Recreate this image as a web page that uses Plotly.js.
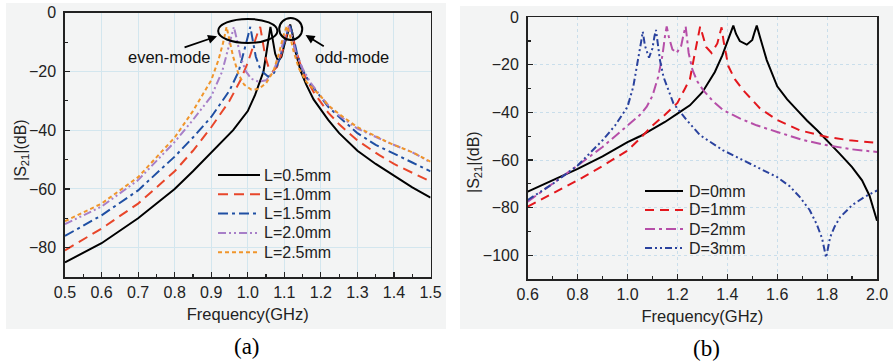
<!DOCTYPE html>
<html><head><meta charset="utf-8">
<script src="https://cdn.plot.ly/plotly-3.0.1.min.js"></script>
<style>html,body{margin:0;padding:0;background:#fff}#chart{width:894px;height:364px}</style>
</head><body><div id="chart"></div>
<script>
// ---------- Panel (a): |S21| vs frequency for different L ----------
const freqA_L05 = [0.5,0.6,0.7,0.76,0.8,0.85,0.9,0.96,1.0,1.02,1.043,1.055,1.062,1.068,1.075,1.083,1.092,1.1,1.108,1.116,1.122,1.13,1.145,1.16,1.18,1.2,1.22,1.25,1.3,1.35,1.4,1.45,1.5];
const s21A_L05  = [-85,-78.5,-70,-64,-60,-54,-47.5,-40,-33.5,-28,-20,-10,-4.8,-9,-14,-16.5,-15,-11,-7,-4,-7,-13,-20,-24.5,-29.5,-33,-36.5,-41,-47,-51.5,-55.5,-59.5,-63];
const freqA_L10 = [0.5,0.6,0.7,0.8,0.85,0.9,0.95,0.98,1.0,1.015,1.028,1.034,1.04,1.048,1.058,1.068,1.08,1.095,1.105,1.114,1.122,1.13,1.145,1.16,1.18,1.2,1.22,1.25,1.3,1.36,1.4,1.45,1.5];
const s21A_L10  = [-80.9,-73.5,-65,-54,-47,-39,-30,-23,-17,-11,-6.5,-4.8,-9,-15,-19,-20,-18.5,-13,-8,-4.5,-7,-12,-18,-22.5,-27,-30.5,-34,-38,-43.5,-48.5,-51.5,-54.5,-57.5];
const freqA_L15 = [0.5,0.6,0.7,0.8,0.85,0.9,0.95,0.975,0.99,1.0,1.007,1.013,1.022,1.035,1.056,1.072,1.088,1.1,1.11,1.116,1.124,1.135,1.15,1.17,1.2,1.22,1.25,1.3,1.35,1.39,1.45,1.5];
const s21A_L15  = [-76,-69,-60.5,-49,-42.5,-35.5,-26.5,-20,-13,-7.5,-4.8,-9,-15,-19.5,-21.8,-20.5,-15.5,-10,-6,-4.5,-8,-14,-19.5,-24,-29,-32,-35.5,-41,-45,-47.5,-51,-54];
const freqA_L20 = [0.5,0.6,0.7,0.8,0.85,0.9,0.93,0.95,0.962,0.97,0.98,0.995,1.01,1.03,1.05,1.07,1.088,1.1,1.112,1.12,1.132,1.15,1.17,1.2,1.22,1.25,1.3,1.39,1.45,1.5];
const s21A_L20  = [-72,-66,-57,-44,-36.5,-28.5,-20,-11,-4.8,-9,-15,-20,-22.5,-23.5,-23,-20,-14,-8.5,-4.5,-7.5,-14,-19,-23.5,-28.5,-31.5,-35,-39.5,-44.5,-47.5,-51];
const freqA_L25 = [0.5,0.6,0.7,0.8,0.85,0.9,0.92,0.933,0.942,0.95,0.96,0.975,0.99,1.01,1.03,1.05,1.07,1.085,1.097,1.107,1.115,1.125,1.14,1.16,1.2,1.22,1.25,1.3,1.39,1.45,1.5];
const s21A_L25  = [-71,-65,-56,-42.5,-33.5,-23,-16,-10,-4.8,-9.5,-15,-21,-24.5,-26.2,-26,-24,-20,-14,-8,-4.5,-7.5,-13,-19,-23.5,-28.5,-31.5,-34.5,-39,-44.5,-47.5,-50.7];
const namesA = ['L=0.5mm','L=1.0mm','L=1.5mm','L=2.0mm','L=2.5mm'];

// ---------- Panel (b): |S21| vs frequency for different D ----------
const freqB_D0 = [0.6,0.7,0.8,0.9,1.0,1.05,1.1,1.15,1.2,1.25,1.3,1.35,1.38,1.4,1.415,1.424,1.435,1.45,1.478,1.5,1.51,1.518,1.53,1.558,1.6,1.64,1.68,1.72,1.76,1.8,1.85,1.9,1.94,1.97,2.0];
const s21B_D0  = [-73.3,-68.5,-63.7,-58.5,-52.5,-50,-47,-44,-40.5,-37,-31.5,-23,-16,-10,-5.5,-3.5,-7,-10,-11.5,-9.5,-6,-3.5,-8,-18,-29,-34.5,-39,-43.5,-47.5,-51.7,-57.3,-63,-68.5,-75,-85.5];
const freqB_D1 = [0.6,0.7,0.8,0.9,1.0,1.05,1.1,1.15,1.2,1.23,1.25,1.27,1.283,1.291,1.3,1.315,1.337,1.36,1.37,1.377,1.385,1.404,1.43,1.463,1.531,1.6,1.69,1.8,1.89,2.0];
const s21B_D1  = [-79.6,-74,-68.5,-62.5,-56,-51,-45.5,-41,-36,-30,-26,-15,-7,-3.9,-7,-12.5,-15,-11,-7,-4.2,-10,-20.5,-26,-30.6,-38.3,-43.2,-47.5,-50.3,-51.7,-52.8];
const freqB_D2 = [0.6,0.7,0.8,0.9,1.0,1.05,1.077,1.1,1.123,1.14,1.15,1.157,1.165,1.18,1.197,1.215,1.225,1.233,1.245,1.26,1.28,1.303,1.34,1.383,1.45,1.517,1.6,1.7,1.8,1.9,2.0];
const s21B_D2  = [-77.5,-70,-62.3,-54.5,-45.5,-41,-37.6,-33,-25,-16,-8,-3.8,-8,-13.5,-15,-12,-7,-3.8,-15,-22,-27,-30.6,-35,-39,-42.5,-45.4,-48.2,-51.5,-53.8,-55.5,-56.6];
const freqB_D3 = [0.6,0.7,0.8,0.9,0.95,1.0,1.023,1.043,1.055,1.061,1.07,1.086,1.1,1.108,1.114,1.12,1.13,1.144,1.184,1.237,1.29,1.383,1.45,1.517,1.6,1.65,1.691,1.73,1.758,1.78,1.796,1.812,1.83,1.852,1.9,1.95,2.0];
const s21B_D3  = [-76.8,-70,-62.3,-51.7,-45.5,-37.6,-29.2,-17.9,-10,-6,-12,-17,-13,-8,-5.3,-10,-18,-25,-36.2,-43.2,-49.5,-55.9,-59.5,-63,-67.2,-71,-75.6,-81,-86.9,-93,-101,-92.5,-88,-84,-79,-75.5,-72.8];
const namesB = ['D=0mm','D=1mm','D=2mm','D=3mm'];

const xTicksA = [0.5,0.6,0.7,0.8,0.9,1.0,1.1,1.2,1.3,1.4,1.5];
const xTicksB = [0.6,0.8,1.0,1.2,1.4,1.6,1.8,2.0];

const FONT = 'Liberation Sans, Arial, Helvetica, sans-serif';
const SERIF = 'Liberation Serif, Times New Roman, serif';
const BG = '#f3f4f4';
const W = 894, H = 364;

const stylesA = [
  {color: '#000000', dash: 'solid'},
  {color: '#e8462a', dash: '10px,6px'},
  {color: '#1f4fa3', dash: '10px,4px,3px,4px'},
  {color: '#a77fc8', dash: '8px,3px,2px,3px,2px,3px'},
  {color: '#f0952b', dash: '4px,3px'}
];
const stylesB = [
  {color: '#000000', dash: 'solid'},
  {color: '#e3171d', dash: '9px,6px'},
  {color: '#b64ea8', dash: '10px,4px,3px,4px'},
  {color: '#2a429e', dash: '7px,3px,2px,3px,2px,3px'}
];

function tr(x, y, name, st, xa, ya) {
  return {x: x, y: y, name: name, type: 'scatter', mode: 'lines', showlegend: false,
    line: {color: st.color, width: 2, dash: st.dash}, xaxis: xa, yaxis: ya};
}

const seriesA = [[freqA_L05, s21A_L05], [freqA_L10, s21A_L10], [freqA_L15, s21A_L15], [freqA_L20, s21A_L20], [freqA_L25, s21A_L25]];
const seriesB = [[freqB_D0, s21B_D0], [freqB_D1, s21B_D1], [freqB_D2, s21B_D2], [freqB_D3, s21B_D3]];
const data = [];
seriesA.forEach((s, i) => data.push(tr(s[0], s[1], namesA[i], stylesA[i], 'x', 'y')));
seriesB.forEach((s, i) => data.push(tr(s[0], s[1], namesB[i], stylesB[i], 'x2', 'y2')));

function axisBase() {
  return {showline: true, linecolor: '#222', linewidth: 1.7, mirror: true,
    ticks: 'inside', ticklen: 5, tickwidth: 1.2, tickcolor: '#222',
    tickfont: {family: FONT, size: 16, color: '#222'}, zeroline: false,
    automargin: false, showgrid: true, gridwidth: 1};
}

const xa = Object.assign(axisBase(), {domain: [0.0727, 0.4816], range: [0.5, 1.5], tickvals: xTicksA, tickformat: '.1f',
  minor: {ticks: 'inside', ticklen: 3, dtick: 0.05, tick0: 0.5, tickcolor: '#222', showgrid: false},
  gridcolor: '#d3e6ee', anchor: 'y',
  title: {text: 'Frequency(GHz)', font: {family: FONT, size: 16.5, color: '#222'}, standoff: 8}});
const ya = Object.assign(axisBase(), {domain: [0.239, 0.965], range: [-90, 0], dtick: 20, tick0: 0,
  minor: {ticks: 'inside', ticklen: 3, dtick: 10, tickcolor: '#222', showgrid: false},
  gridcolor: '#d3e6ee', anchor: 'x', ticklabelstandoff: 4});
const xb = Object.assign(axisBase(), {domain: [0.5903, 0.981], range: [0.6, 2.0], tickvals: xTicksB, tickformat: '.1f',
  minor: {ticks: 'inside', ticklen: 3, dtick: 0.1, tick0: 0.6, tickcolor: '#222', showgrid: false},
  gridcolor: '#c9deeb', griddash: 'dot', anchor: 'y2',
  title: {text: 'Frequency(GHz)', font: {family: FONT, size: 16.5, color: '#222'}, standoff: 8}});
const yb = Object.assign(axisBase(), {domain: [0.2335, 0.9525], range: [-110, 0], dtick: 20, tick0: 0,
  minor: {ticks: 'inside', ticklen: 3, dtick: 10, tickcolor: '#222', showgrid: false},
  gridcolor: '#c9deeb', griddash: 'dot', anchor: 'x2', ticklabelstandoff: 4});

const shapes = [
  {type: 'rect', xref: 'paper', yref: 'paper', x0: 6/W, x1: 446/W, y0: 1-329/H, y1: 1-3/H, fillcolor: BG, line: {width: 0}, layer: 'below'},
  {type: 'rect', xref: 'paper', yref: 'paper', x0: 460/W, x1: 893/W, y0: 1-329/H, y1: 1-6/H, fillcolor: BG, line: {width: 0}, layer: 'below'},
  {type: 'circle', xref: 'x', yref: 'y', x0: 0.919, x1: 1.081, y0: -10.3, y1: -2.1, line: {color: '#000', width: 2}},
  {type: 'circle', xref: 'x', yref: 'y', x0: 1.086, x1: 1.149, y0: -9.3, y1: -1.8, line: {color: '#000', width: 2}}
];
const annotations = [
  {xref: 'x', yref: 'y', x: 0.785, y: -15.1, text: 'even-mode', showarrow: false, font: {family: FONT, size: 16.5, color: '#111'}},
  {xref: 'x', yref: 'y', x: 1.284, y: -15.1, text: 'odd-mode', showarrow: false, font: {family: FONT, size: 16.5, color: '#111'}},
  {xref: 'x', yref: 'y', x: 0.916, y: -8.0, axref: 'x', ayref: 'y', ax: 0.823, ay: -12.0, text: '', showarrow: true, arrowhead: 2, arrowsize: 1, arrowwidth: 1.8, arrowcolor: '#000'},
  {xref: 'x', yref: 'y', x: 1.158, y: -7.6, axref: 'x', ayref: 'y', ax: 1.212, ay: -11.7, text: '', showarrow: true, arrowhead: 2, arrowsize: 1, arrowwidth: 1.8, arrowcolor: '#000'},
  {xref: 'paper', yref: 'paper', x: 21/W, y: 1-150/H, xanchor: 'center', yanchor: 'middle', text: '|S<sub>21</sub>|(dB)', textangle: -90, showarrow: false, font: {family: FONT, size: 16, color: '#222'}},
  {xref: 'paper', yref: 'paper', x: 474/W, y: 1-162/H, xanchor: 'center', yanchor: 'middle', text: '|S<sub>21</sub>|(dB)', textangle: -90, showarrow: false, font: {family: FONT, size: 16, color: '#222'}},
  {xref: 'paper', yref: 'paper', x: 247/W, y: 1-346/H, xanchor: 'center', yanchor: 'middle', text: '(a)', showarrow: false, font: {family: SERIF, size: 23, color: '#000'}},
  {xref: 'paper', yref: 'paper', x: 706/W, y: 1-348/H, xanchor: 'center', yanchor: 'middle', text: '(b)', showarrow: false, font: {family: SERIF, size: 23, color: '#000'}}
];

// manual legends (sample line + label), one row per series
function addLegend(names, styles, lineX0, lineX1, textX, rowY0, rowStep) {
  names.forEach((nm, i) => {
    const yy = 1 - (rowY0 + i * rowStep) / H;
    shapes.push({type: 'line', xref: 'paper', yref: 'paper', x0: lineX0 / W, x1: lineX1 / W, y0: yy, y1: yy,
      line: {color: styles[i].color, width: 2, dash: styles[i].dash}});
    annotations.push({xref: 'paper', yref: 'paper', x: textX / W, y: yy, xanchor: 'left', yanchor: 'middle',
      text: nm, showarrow: false, font: {family: FONT, size: 16, color: '#222'}});
  });
}
addLegend(namesA, stylesA, 218, 260, 262, 175, 19.3);
addLegend(namesB, stylesB, 645, 683, 687, 191, 19);

const layout = {
  width: W, height: H, margin: {l: 0, r: 0, t: 0, b: 0},
  paper_bgcolor: '#ffffff', plot_bgcolor: BG, showlegend: false,
  xaxis: xa, yaxis: ya, xaxis2: xb, yaxis2: yb,
  shapes: shapes, annotations: annotations
};

Plotly.newPlot('chart', data, layout, {displayModeBar: false, staticPlot: true});
</script>
</body></html>
